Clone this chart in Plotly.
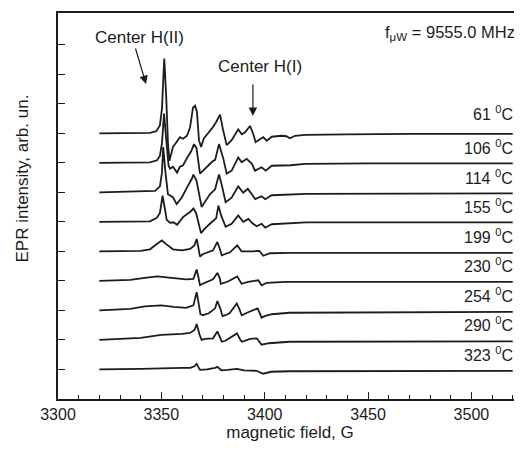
import plotly.graph_objects as go

# temperatures (labels) from top to bottom
temps = ["61", "106", "114", "155", "199", "230", "254", "290", "323"]
# vertical stacking offset of each spectrum (arb. un.)
offsets = [240, 210, 180, 150, 120, 90, 60, 30, 0]

# spectra: magnetic field (G) and EPR intensity (arb. un.)
f61 = [3320, 3344.5, 3347.5, 3349.3, 3350.3, 3351.4, 3352.3, 3353.2, 3353.9, 3355.6, 3357.6, 3359.0, 3360.5, 3362.4,
       3363.9, 3365.3, 3366.3, 3367.2, 3368.2, 3369.2, 3370.6, 3372.6, 3374.5, 3376.4, 3378.4, 3379.8, 3381.6,
       3384.0, 3387.2, 3388.9, 3390.5, 3392.9, 3394.5, 3395.6, 3397.7, 3399.3, 3401.0, 3403.4, 3408.2, 3410.5,
       3412.2, 3414.7, 3419.5, 3440, 3470, 3520]
i61 = [0, 0.5, 2, 8, 25, 76, 40, -10, -28, -14, -8, -4, -5.5, -2.5,
       6, 26, 28, 22, -7, -14, -5, 0, 5, 11, 19, 4, -12,
       -7, 4, -1, 1, 7.5, -1, -9, -6, -4, -7.5, -3.5, -2.5, -3,
       -5, -2.5, -1.5, -1, -0.5, -0.5]

f106 = [3320, 3344.5, 3347.9, 3349.3, 3350.3, 3351.3, 3352.3, 3353.5, 3354.2, 3355.6, 3357.6, 3359.0, 3360.5, 3363.0,
        3364.5, 3365.8, 3367.0, 3368.7, 3370.2, 3372.6, 3374.5, 3376.0, 3377.9, 3380.0, 3381.6, 3384.0, 3387.2,
        3388.9, 3391.3, 3393.8, 3395.3, 3398.5, 3400.5, 3403.4, 3412.5, 3419.5, 3450, 3520]
i106 = [0, 0.5, 2.5, 7, 20, 50, 25, -3, -6, -4, -10, -4, -2.5, 7,
        12, 19, 15, -11, -8, -3, 1, 3, 19, 4, -11, -8, 5.5,
        0.5, 4, -1, -8, -4.5, -8, -3, -2.5, -1, -0.5, -0.5]

f114 = [3320, 3347.0, 3349.3, 3350.3, 3350.9, 3352.0, 3353.2, 3355.6, 3357.4, 3359.8, 3362.2, 3364.8, 3365.5, 3367.0,
        3369.5, 3371.0, 3373.5, 3376.0, 3377.9, 3379.5, 3381.1, 3384.0, 3387.2, 3389.6, 3391.8, 3393.8, 3395.4,
        3398.5, 3400.3, 3403.4, 3420, 3520]
i114 = [0, 1.5, 6, 20, 46, 20, -2, -5, -12, -5.5, 4, 14, 18, 12,
        -15, -10, -2, 3, 18, 5, -10, -5.5, 6, -0.5, 3.5, -2, -7,
        -4, -7, -3, -1.5, -1]

f155 = [3320, 3344.5, 3347.8, 3349.3, 3350.6, 3351.8, 3352.6, 3354.2, 3355.8, 3357.6, 3360.6, 3363.9, 3365.5, 3366.8,
        3369.2, 3371.0, 3374.0, 3376.5, 3377.6, 3379.0, 3381.1, 3384.0, 3387.2, 3389.6, 3392.1, 3393.8, 3396.1,
        3398.5, 3400.3, 3403.4, 3420, 3520]
i155 = [0, 0.5, 4, 9, 26.5, 12, 2, -1, -0.5, -3, 5, 10, 13.5, 9,
        -11.5, -7, -1, 3.5, 16.5, 6, -5, -2, 6.5, 0, 3, -1, -4.5,
        -2, -6, -2.5, -0.5, -0.5]

f199 = [3320, 3340, 3344.5, 3347.5, 3350.2, 3352.5, 3355.6, 3360, 3363.9, 3366.0, 3367.1, 3367.9, 3368.7, 3370.0,
        3375.0, 3377.1, 3378.2, 3379.2, 3383.2, 3386.7, 3388.8, 3394, 3397.4, 3399.3, 3402.6, 3412, 3520]
i199 = [0, 0.5, 2, 7, 11, 7, 2, 1, 2.5, 6, 12.5, 4, -5.5, -3,
        1, 9.5, 3, -4, -1, 6, 0, 0, 0.5, -4.5, -2, -1.5, -1.5]

f230 = [3320, 3335, 3342, 3348, 3355, 3362, 3365.5, 3367.1, 3368.0, 3368.7, 3370, 3375, 3377.1, 3378.2, 3378.8,
        3382, 3386.7, 3388.8, 3392, 3396.9, 3398.5, 3401, 3410, 3520]
i230 = [0, 1, 3, 4.5, 3, 1.5, 2, 11.5, 3, -4.5, -3, 1.5, 8, 3, -3,
        -1, 4.5, -3, -1, 0.5, -4.5, -2, -1, -1]

f254 = [3320, 3335, 3342, 3350, 3356, 3362, 3365.5, 3367.1, 3368.2, 3368.9, 3370, 3373, 3376, 3377.1, 3378.5,
        3379.6, 3381, 3383, 3386.5, 3387.8, 3388.9, 3392, 3396.6, 3398.5, 3400, 3403.5, 3412, 3520]
i254 = [0, 1.5, 4, 5, 3.5, 2.5, 5, 18.5, 5, -4, -5, -3, 2, 9.5, 2,
        -6, -5, -3, 7, 1, -5, -2, 2, -7.5, -6, -4, -2.5, -1.5]

f290 = [3320, 3340, 3350, 3360, 3363.9, 3366.0, 3367.1, 3368.5, 3369.5, 3371, 3375, 3377.1, 3378.5, 3379.2, 3381,
        3386.6, 3388.2, 3389, 3393, 3396.2, 3398.5, 3402, 3412, 3520]
i290 = [0, 2, 5, 6, 7, 10, 16, 5, 0, 1, 1.5, 8.5, 2, -2, -1,
        6.5, 0, -2, 1, 1.5, -5, -3.5, -2, -1.5]

f323 = [3320, 3340, 3360, 3364, 3366.0, 3367.1, 3368.2, 3368.8, 3372, 3376, 3377.1, 3379, 3382, 3386.6, 3390,
        3396, 3399.3, 3403, 3412, 3520]
i323 = [0, 0.5, 1.5, 1.5, 3, 5.5, 1, -0.5, 0, 1.5, 2.5, -1, -0.5, 0.5, -1,
        -1.5, -4.5, -2.5, -2, -1.5]

fields = [f61, f106, f114, f155, f199, f230, f254, f290, f323]
intens = [i61, i106, i114, i155, i199, i230, i254, i290, i323]

# page body has an 8 px margin: figure coordinates = window coordinates - 8
PX = 29.5 / 30.0          # px per intensity unit (29.5 px between spectra)
Y0 = 369.3 - 8            # figure-pixel row of the zero baseline
y_lo = -(391 - Y0) / PX
y_hi = (Y0 - 5) / PX

FONT = "Liberation Sans, Arial, sans-serif"
INK = "#1c1c1c"

fig = go.Figure()
for f, iv, off in zip(fields, intens, offsets):
    fig.add_trace(go.Scatter(
        x=f, y=[v + off for v in iv], mode="lines",
        line=dict(color=INK, width=1.8, shape="linear", simplify=False),
        showlegend=False, hoverinfo="skip"))

# temperature labels
for k, (t, off) in enumerate(zip(temps, offsets)):
    dy = 20 if k == 0 else 15.5
    fig.add_annotation(x=3521, y=off + dy / PX, xref="x", yref="y",
                       text=f"{t} <sup>0</sup>C", showarrow=False,
                       xanchor="right", yanchor="middle",
                       font=dict(family=FONT, size=16, color=INK))

# centre labels and arrows
fig.add_annotation(x=3339.2, y=(Y0 - 29) / PX, xref="x", yref="y", text="Center H(II)",
                   showarrow=False, xanchor="center", yanchor="middle",
                   font=dict(family=FONT, size=17, color=INK))
fig.add_annotation(x=3342.6, y=(Y0 - 76) / PX, xref="x", yref="y", text="",
                   showarrow=True, ax=-11, ay=-37, arrowhead=2, arrowsize=1.4,
                   arrowwidth=1.2, arrowcolor=INK)
fig.add_annotation(x=3397.7, y=(Y0 - 58) / PX, xref="x", yref="y", text="Center H(I)",
                   showarrow=False, xanchor="center", yanchor="middle",
                   font=dict(family=FONT, size=17, color=INK))
fig.add_annotation(x=3394.3, y=(Y0 - 108) / PX, xref="x", yref="y", text="",
                   showarrow=True, ax=0, ay=-33, arrowhead=2, arrowsize=1.4,
                   arrowwidth=1.2, arrowcolor=INK)
fig.add_annotation(x=1.0, y=(Y0 - 25) / PX, xref="paper", yref="y",
                   text="f<sub>\u03bcW</sub> = 9555.0 MHz", showarrow=False,
                   xanchor="right", yanchor="middle", xshift=-5,
                   font=dict(family=FONT, size=16.5, color=INK))

# y-axis title (sits above the vertical centre of the axis in the reference)
fig.add_annotation(x=(14 - 50) / 464, y=1 - (170.5 - 5) / 386, xref="paper", yref="paper",
                   text="EPR intensity, arb. un.", textangle=-90, showarrow=False,
                   xanchor="center", yanchor="middle",
                   font=dict(family=FONT, size=17, color=INK))

fig.update_layout(
    width=514, height=444,
    margin=dict(l=50, r=0, t=5, b=53),
    paper_bgcolor="white", plot_bgcolor="white",
    font=dict(family=FONT, size=16, color=INK),
    xaxis=dict(range=[3300, 3300 + (514 - 50) / 2.067], showgrid=False, zeroline=False,
               showline=True, linecolor=INK, linewidth=1.5, mirror=True,
               ticks="inside", ticklen=7, tickwidth=1.3, tickcolor=INK,
               tick0=3300, dtick=50,
               minor=dict(dtick=10, ticks="inside", ticklen=4, tickwidth=1.2, tickcolor=INK),
               tickfont=dict(family=FONT, size=16, color=INK),
               title=dict(text="magnetic field, G", standoff=4,
                          font=dict(family=FONT, size=17, color=INK))),
    yaxis=dict(range=[y_lo, y_hi], showgrid=False, zeroline=False,
               showline=True, linecolor=INK, linewidth=1.5, mirror=False,
               ticks="inside", ticklen=7, tickwidth=1.3, tickcolor=INK,
               tickvals=[30 * k for k in range(12)], showticklabels=False),
)

fig.write_html("out.html")
